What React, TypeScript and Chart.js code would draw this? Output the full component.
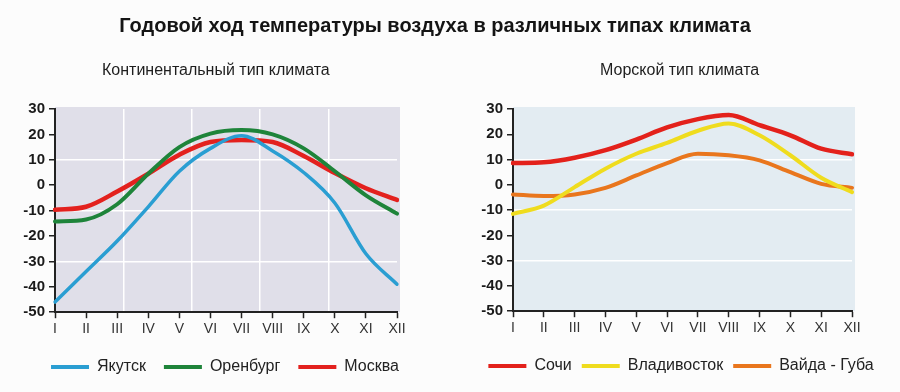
import React, { useEffect, useRef } from 'react';
import Chart from 'chart.js/auto';

const months = ['I', 'II', 'III', 'IV', 'V', 'VI', 'VII', 'VIII', 'IX', 'X', 'XI', 'XII'];

// Континентальный тип климата
const yakutsk = [-46, -34, -22, -8.5, 5.5, 14.5, 19.5, 13.5, 5, -7, -27, -39];
const orenburg = [-14.3, -13.5, -7.5, 4.5, 15, 20.3, 21.7, 20, 14.5, 5.5, -4, -11.2];
const moscow = [-9.7, -8.5, -2.5, 4.5, 12, 17, 17.8, 17, 11.5, 4.8, -1.2, -5.8];

// Морской тип климата
const sochi = [8.6, 8.9, 10.7, 13.7, 17.9, 22.7, 26, 27.6, 23.6, 19.6, 14.3, 12.1];
const vladivostok = [-11.5, -8.2, -0.9, 6.4, 12.3, 16.6, 21.4, 24.3, 19.6, 11.7, 2.8, -2.9];
const vaidaGuba = [-3.8, -4.4, -3.8, -1.2, 3.7, 8.6, 12.3, 11.7, 9.7, 5, 0.4, -1.2];

const Y_MIN = -50;
const Y_MAX = 30;
const Y_STEP = 10;
const whiteGridValues = [10, -10, -30];

const TITLE = 'Годовой ход температуры воздуха в различных типах климата';
const SUB_LEFT = 'Континентальный тип климата';
const SUB_RIGHT = 'Морской тип климата';

const SANS = "'Liberation Sans', Arial, sans-serif";

const bgPlugin = {
  id: 'plotBg',
  beforeDraw(chart: any, _args: any, opts: any) {
    const { ctx, chartArea: a } = chart;
    ctx.save();
    ctx.fillStyle = opts.color;
    ctx.fillRect(a.left, a.top - 2, a.right - a.left + 3, a.bottom - a.top + 2);
    ctx.restore();
  },
};

type Series = { label: string; data: number[]; color: string; width: number };

function Panel(props: {
  left: number;
  series: Series[];
  bg: string;
  yWidth: number;
  padRight: number;
  vgrid: boolean;
  legendPad: number;
  padBottom: number;
  xExtra: number;
}) {
  const ref = useRef<HTMLCanvasElement | null>(null);
  useEffect(() => {
    if (!ref.current) return;
    const scales: any = {
      x: {
        type: 'category',
        offset: false,
        grid: { drawOnChartArea: false, tickLength: 6, tickColor: '#222', tickWidth: 1.5 },
        border: { color: '#222', width: 2 },
        ticks: {
          color: '#333',
          font: { family: SANS, size: 14 },
          padding: 3,
          maxRotation: 0,
          autoSkip: false,
        },
        afterFit: (s: any) => {
          s.height += props.xExtra;
        },
      },
      y: {
        min: Y_MIN,
        max: Y_MAX,
        grid: {
          color: (c: any) => (c.tick && whiteGridValues.includes(c.tick.value) ? '#ffffff' : 'rgba(0,0,0,0)'),
          lineWidth: 1.5,
          tickLength: 6,
          tickColor: '#222',
          tickWidth: 1.5,
        },
        border: { color: '#222', width: 2 },
        ticks: {
          stepSize: Y_STEP,
          color: '#1a1a1a',
          font: { family: SANS, size: 15, weight: 'bold' },
          padding: 4,
        },
        afterFit: (s: any) => {
          s.width = props.yWidth;
        },
      },
      yr: {
        type: 'linear',
        position: 'right',
        display: true,
        grid: { display: false, drawTicks: false },
        ticks: { display: false },
        border: { display: false },
        afterFit: (s: any) => {
          s.width = props.padRight;
        },
      },
    };
    if (props.vgrid) {
      scales.xg = {
        type: 'linear',
        position: 'top',
        min: 0,
        max: 5,
        ticks: { display: false, stepSize: 1 },
        grid: {
          drawTicks: false,
          lineWidth: 1.5,
          color: (c: any) => (c.tick && c.tick.value > 0 && c.tick.value < 5 ? '#ffffff' : 'rgba(0,0,0,0)'),
        },
        border: { display: false },
      };
    }
    const chart = new Chart(ref.current, {
      type: 'line',
      data: {
        labels: months,
        datasets: props.series.map((s) => ({
          label: s.label,
          data: s.data,
          borderColor: s.color,
          backgroundColor: s.color,
          borderWidth: s.width,
          pointRadius: 0,
          cubicInterpolationMode: 'monotone' as const,
          borderCapStyle: 'round' as const,
          borderJoinStyle: 'round' as const,
        })),
      },
      options: {
        responsive: false,
        animation: false,
        layout: { padding: { top: 109, left: 0, right: 0, bottom: props.padBottom } },
        scales,
        plugins: {
          plotBg: { color: props.bg },
          tooltip: { enabled: false },
          title: { display: false },
          legend: {
            position: 'bottom',
            labels: {
              boxWidth: 38,
              boxHeight: 4,
              padding: props.legendPad,
              color: '#222',
              font: { family: SANS, size: 16 },
              generateLabels: (ch: any) =>
                Chart.defaults.plugins.legend.labels.generateLabels(ch).map((l: any) => ({ ...l, lineWidth: 0 })),
            },
          },
        } as any,
      },
      plugins: [bgPlugin],
    });
    return () => chart.destroy();
  }, []);
  return (
    <canvas
      ref={ref}
      width={450}
      height={392}
      style={{ position: 'absolute', left: props.left, top: 0, width: 450, height: 392, display: 'block' }}
    />
  );
}

export default function App() {
  return (
    <div
      style={{
        position: 'absolute',
        left: 0,
        top: 0,
        width: 900,
        height: 392,
        overflow: 'hidden',
        background: '#fcfcfc',
      }}
    >
      <Panel
        left={0}
        bg="#e0dfe9"
        yWidth={55}
        padRight={53}
        vgrid={true}
        legendPad={18}
        padBottom={7}
        xExtra={0}
        series={[
          { label: 'Якутск', data: yakutsk, color: '#2a9ed2', width: 3.5 },
          { label: 'Оренбург', data: orenburg, color: '#1e843a', width: 4 },
          { label: 'Москва', data: moscow, color: '#e3211e', width: 4.5 },
        ]}
      />
      <Panel
        left={456}
        bg="#e3ecf2"
        yWidth={57}
        padRight={54}
        vgrid={false}
        legendPad={10}
        padBottom={8}
        xExtra={8}
        series={[
          { label: 'Сочи', data: sochi, color: '#e3211b', width: 4.5 },
          { label: 'Владивосток', data: vladivostok, color: '#efdc1e', width: 4 },
          { label: 'Вайда - Губа', data: vaidaGuba, color: '#e9761d', width: 4 },
        ]}
      />
      <div
        style={{
          position: 'absolute',
          left: 0,
          width: 870,
          top: 12,
          textAlign: 'center',
          fontFamily: SANS,
          fontWeight: 'bold',
          fontSize: 20,
          lineHeight: '26px',
          color: '#141414',
        }}
      >
        {TITLE}
      </div>
      <div
        style={{
          position: 'absolute',
          left: 102,
          top: 60,
          fontFamily: SANS,
          fontSize: 16,
          lineHeight: '20px',
          color: '#1e1e1e',
        }}
      >
        {SUB_LEFT}
      </div>
      <div
        style={{
          position: 'absolute',
          left: 600,
          top: 60,
          fontFamily: SANS,
          fontSize: 16,
          lineHeight: '20px',
          color: '#1e1e1e',
        }}
      >
        {SUB_RIGHT}
      </div>
    </div>
  );
}
